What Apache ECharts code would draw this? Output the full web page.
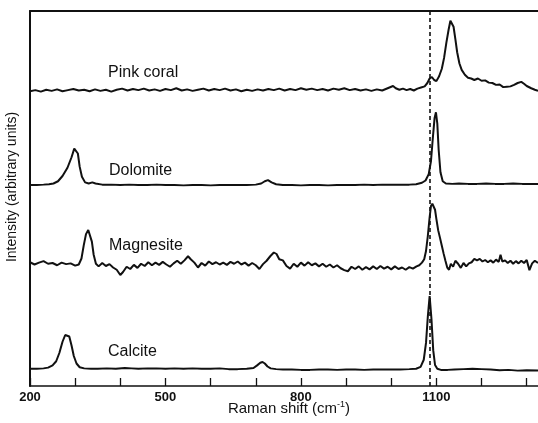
<!DOCTYPE html>
<html>
<head>
<meta charset="utf-8">
<script src="https://cdn.jsdelivr.net/npm/echarts@6/dist/echarts.min.js"></script>
<style>
  html, body { margin: 0; padding: 0; background: #fff; }
  #chart { width: 538px; height: 423px; }
</style>
</head>
<body>
<div id="chart"></div>
<script>
// Raman spectra of carbonate minerals, offset vertically (arbitrary intensity units)
// Each trace: [Raman shift (cm-1), intensity]

const calcite = [
  [200,4.6],[215,4.6],[230,4.7],[240,4.9],[250,5.5],[258,6.6],[265,8.8],[272,11.8],[278,13.6],[282,13.9],
  [287,13.2],[292,10.8],[297,8.0],[303,6.0],[310,5.0],[320,4.7],[335,4.6],[350,4.6],[370,4.7],[390,4.6],
  [410,4.8],[425,4.7],[440,4.6],[460,4.7],[480,4.7],[500,4.6],[520,4.7],[540,4.6],[560,4.7],[580,4.6],
  [600,4.6],[620,4.7],[640,4.5],[660,4.5],[680,4.6],[695,4.8],[703,5.5],[710,6.2],[715,6.4],[720,6.0],
  [726,5.2],[733,4.7],[745,4.5],[760,4.4],[780,4.4],[800,4.3],[820,4.3],[840,4.4],[860,4.4],[880,4.3],
  [900,4.4],[920,4.4],[940,4.3],[960,4.4],[980,4.4],[1000,4.4],[1020,4.4],[1040,4.5],[1055,4.6],[1065,5.1],
  [1072,7.0],[1077,11.5],[1081,18.5],[1085,24.0],[1089,18.0],[1093,9.5],[1097,5.6],[1102,4.6],[1110,4.3],[1125,4.3],
  [1140,4.4],[1160,4.5],[1180,4.6],[1200,4.5],[1220,4.4],[1240,4.2],[1260,4.3],[1280,4.1],[1300,4.2],[1325,4.1]
];

const magnesite = [
  [200,33.0],[210,32.4],[220,32.9],[230,33.3],[240,32.6],[250,32.8],[260,32.2],[270,32.9],[280,32.5],[290,32.7],
  [300,32.1],[308,32.4],[314,34.0],[319,37.5],[324,40.5],[329,41.6],[333,41.2],[337,38.5],[341,35.0],[346,32.6],
  [352,31.9],[360,32.8],[368,32.0],[376,32.5],[384,31.6],[392,31.0],[400,29.6],[406,30.4],[414,31.8],[422,31.2],
  [430,32.3],[438,31.5],[446,32.6],[454,32.0],[462,33.0],[470,32.2],[478,32.9],[486,32.3],[494,33.1],[502,32.4],
  [510,31.8],[518,32.7],[526,33.4],[534,32.6],[542,33.5],[550,34.6],[556,33.8],[564,32.9],[572,31.6],[580,32.8],
  [588,32.1],[596,33.2],[604,32.5],[612,33.0],[620,32.4],[628,32.9],[636,32.3],[644,33.1],[652,32.6],[660,33.2],
  [668,32.4],[676,32.9],[684,32.1],[692,32.8],[700,32.2],[708,31.2],[716,32.5],[724,33.4],[732,34.6],[740,35.6],
  [746,35.2],[752,33.8],[760,33.5],[768,32.0],[776,31.3],[784,32.6],[792,31.8],[800,32.9],[808,32.1],[816,33.0],
  [824,32.2],[832,32.7],[840,31.9],[848,32.6],[856,31.8],[864,32.4],[872,31.6],[880,32.2],[888,31.4],[896,30.9],
  [904,30.6],[912,31.8],[920,31.2],[928,31.9],[936,31.0],[944,31.7],[952,31.1],[960,31.9],[968,31.2],[976,32.0],
  [984,31.3],[992,31.8],[1000,31.1],[1008,31.9],[1016,31.2],[1024,31.6],[1032,31.0],[1040,31.7],[1048,31.3],[1056,31.9],
  [1062,32.2],[1068,32.9],[1073,33.8],[1077,36.0],[1081,40.0],[1085,45.0],[1088,48.0],[1091,48.6],[1094,48.4],[1097,47.0],
  [1100,44.5],[1104,41.5],[1108,39.5],[1112,37.4],[1116,35.3],[1120,33.4],[1124,31.6],[1128,31.0],[1132,32.6],[1137,31.8],
  [1142,33.4],[1148,32.6],[1154,31.5],[1160,32.8],[1166,31.9],[1172,32.7],[1178,33.0],[1184,33.9],[1190,33.5],[1196,33.9],
  [1202,33.2],[1208,33.6],[1214,33.0],[1220,33.5],[1226,32.9],[1232,33.7],[1238,33.1],[1242,35.0],[1246,33.2],[1252,33.5],
  [1258,32.8],[1264,33.4],[1270,32.6],[1276,33.3],[1282,32.7],[1288,33.4],[1294,32.8],[1300,33.6],[1306,30.9],[1312,32.7],
  [1318,33.4],[1325,32.8]
];

const dolomite = [
  [200,53.6],[215,53.6],[230,53.7],[242,53.8],[252,54.0],[262,54.6],[272,56.0],[283,58.2],[292,61.0],[298,63.3],
  [302,63.5],[306,62.0],[310,58.5],[315,55.8],[322,54.3],[330,54.0],[338,54.3],[345,54.0],[360,53.7],[380,53.7],
  [400,53.6],[420,53.7],[440,53.6],[460,53.6],[480,53.7],[500,53.6],[520,53.6],[540,53.5],[560,53.6],[580,53.6],
  [600,53.5],[620,53.6],[640,53.6],[660,53.6],[680,53.6],[700,53.7],[712,54.0],[720,54.6],[727,54.9],[735,54.3],
  [745,53.8],[760,53.6],[780,53.6],[800,53.5],[820,53.6],[840,53.6],[860,53.5],[880,53.6],[900,53.6],[920,53.6],
  [940,53.7],[960,53.6],[980,53.7],[1000,53.7],[1020,53.7],[1040,53.7],[1055,53.8],[1068,54.2],[1076,54.8],[1083,56.5],
  [1088,60.0],[1092,66.0],[1096,71.5],[1099,73.0],[1102,70.0],[1105,63.0],[1109,57.0],[1114,54.6],[1121,54.0],[1135,53.9],
  [1150,54.0],[1170,53.9],[1190,53.9],[1210,54.0],[1230,53.9],[1250,53.9],[1270,54.0],[1290,53.9],[1310,53.9],[1325,53.9]
];

const pinkCoral = [
  [200,78.6],[212,78.9],[224,78.5],[236,79.0],[248,78.7],[260,79.1],[272,78.6],[284,78.9],[296,79.2],[308,78.8],
  [320,79.0],[332,78.6],[344,79.1],[356,78.7],[368,79.0],[380,78.5],[392,79.0],[404,79.3],[416,78.8],[428,79.2],
  [440,78.9],[452,79.3],[464,78.8],[476,79.1],[488,78.7],[500,79.2],[512,78.9],[524,79.4],[536,78.8],[548,79.1],
  [560,78.7],[572,79.0],[584,79.3],[596,78.8],[608,79.2],[620,78.9],[632,79.3],[644,78.8],[656,79.1],[668,78.6],
  [680,79.0],[692,78.7],[704,79.1],[716,78.8],[728,79.2],[740,78.9],[752,79.3],[764,78.8],[776,79.2],[788,78.9],
  [800,79.4],[812,79.0],[824,79.3],[836,78.9],[848,79.2],[860,78.8],[872,79.3],[884,79.0],[896,79.4],[908,78.9],
  [920,79.2],[932,78.8],[944,79.1],[956,78.7],[968,79.1],[980,78.8],[992,79.4],[1004,80.0],[1010,79.4],[1018,79.0],
  [1026,79.3],[1034,78.9],[1042,79.2],[1050,78.8],[1058,79.3],[1066,79.6],[1074,79.9],[1080,80.8],[1085,82.0],[1090,82.4],
  [1095,81.6],[1100,81.3],[1106,82.6],[1112,84.6],[1117,87.5],[1122,91.5],[1127,95.0],[1131,97.4],[1134,97.6],[1138,95.8],
  [1142,92.5],[1146,89.0],[1151,86.0],[1156,84.3],[1163,83.0],[1170,82.2],[1177,82.0],[1184,81.6],[1192,82.0],[1200,81.4],
  [1208,81.5],[1216,80.9],[1224,80.8],[1232,80.3],[1240,80.4],[1248,79.7],[1256,79.8],[1264,79.9],[1272,80.3],[1280,80.8],
  [1288,81.1],[1294,80.6],[1300,80.0],[1310,79.4],[1318,79.0],[1325,78.7]
];

const labeledShifts = [200, 500, 800, 1100];
const referenceShift = 1085;   // calcite v1 band, marked across all traces
const traceNames = ['Pink coral', 'Dolomite', 'Magnesite', 'Calcite'];

const INK = '#111';
const FONT = '"Liberation Sans", Arial, Helvetica, sans-serif';

const chart = echarts.init(document.getElementById('chart'), null, { renderer: 'canvas' });

function trace(name, data, extra) {
  return Object.assign({
    name: name,
    type: 'line',
    data: data,
    showSymbol: false,
    symbol: 'none',
    smooth: false,
    lineStyle: { color: INK, width: 2 },
    animation: false,
    silent: true
  }, extra || {});
}

const labelStyle = { fill: INK, font: '16px ' + FONT, textVerticalAlign: 'middle' };

chart.setOption({
  backgroundColor: '#fff',
  animation: false,
  grid: { left: 30, right: 0, top: 11, bottom: 37, containLabel: false },
  xAxis: [{
    type: 'value',
    min: 200, max: 1325, interval: 100,
    axisLine: { show: true, onZero: false, lineStyle: { color: INK, width: 1.6 } },
    axisTick: { show: true, inside: true, length: 8, lineStyle: { color: INK, width: 1.3 } },
    axisLabel: {
      show: true, margin: 5, color: INK, fontFamily: FONT, fontSize: 13, fontWeight: 'bold',
      showMaxLabel: false,
      formatter: v => labeledShifts.indexOf(v) >= 0 ? String(v) : ''
    },
    splitLine: { show: false }
  }, {
    type: 'value', position: 'top',
    min: 200, max: 1325,
    axisLine: { show: true, onZero: false, lineStyle: { color: INK, width: 1.8 } },
    axisTick: { show: false }, axisLabel: { show: false }, splitLine: { show: false }
  }],
  yAxis: {
    type: 'value', min: 0, max: 100,
    axisLine: { show: true, onZero: false, lineStyle: { color: INK, width: 2 } },
    axisTick: { show: false }, axisLabel: { show: false }, splitLine: { show: false }
  },
  series: [
    trace(traceNames[0], pinkCoral),
    trace(traceNames[1], dolomite),
    trace(traceNames[2], magnesite),
    trace(traceNames[3], calcite, {
      markLine: {
        silent: true, symbol: 'none',
        label: { show: false },
        lineStyle: { color: INK, type: [4, 3], width: 1.6 },
        data: [{ xAxis: referenceShift }]
      }
    })
  ],
  graphic: [
    { type: 'text', left: 108, top: 65, style: Object.assign({ text: traceNames[0] }, labelStyle) },
    { type: 'text', left: 109, top: 163, style: Object.assign({ text: traceNames[1] }, labelStyle) },
    { type: 'text', left: 109, top: 238, style: Object.assign({ text: traceNames[2] }, labelStyle) },
    { type: 'text', left: 108, top: 344, style: Object.assign({ text: traceNames[3] }, labelStyle) },
    {
      type: 'text', x: 289, y: 409,
      style: {
        text: '{a|Raman shift (cm}{s|-1}{a|)}',
        align: 'center', verticalAlign: 'middle',
        rich: {
          a: { fontFamily: FONT, fontSize: 15, fill: INK, lineHeight: 18 },
          s: { fontFamily: FONT, fontSize: 9, fill: INK, verticalAlign: 'top', lineHeight: 10 }
        }
      }
    },
    {
      type: 'text', x: 12, y: 187, rotation: Math.PI / 2,
      style: {
        text: 'Intensity (arbitrary units)',
        fill: INK, font: '14px ' + FONT,
        align: 'center', verticalAlign: 'middle'
      }
    }
  ]
});
</script>
</body>
</html>
